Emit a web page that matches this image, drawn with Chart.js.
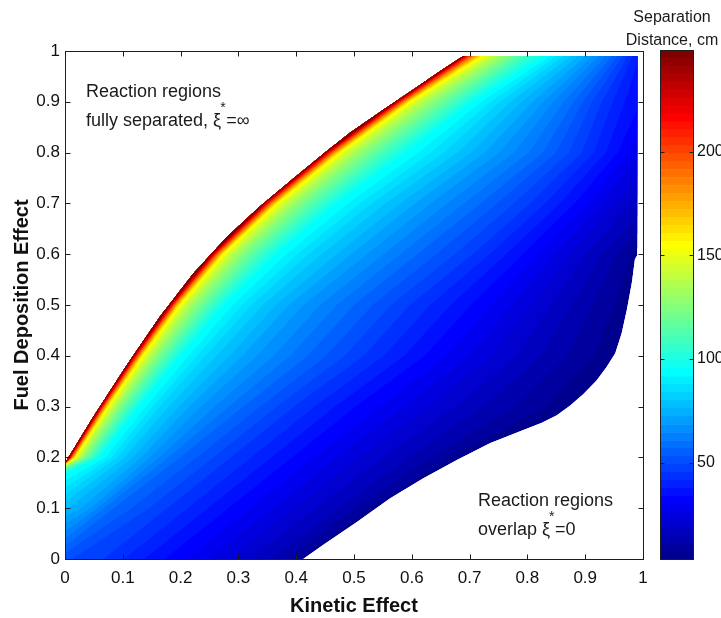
<!DOCTYPE html>
<html>
<head>
<meta charset="utf-8">
<script src="https://cdn.jsdelivr.net/npm/chart.js@4/dist/chart.umd.min.js"></script>
<style>
  html, body { margin: 0; padding: 0; background: #fff; overflow: hidden; }
  #wrap { position: relative; width: 721px; height: 618px; }
  #main { position: absolute; left: 0; top: 0; }
  #bar { position: absolute; left: 600px; top: 0; }
</style>
</head>
<body>
<div id="wrap">
  <canvas id="main" width="721" height="618"></canvas>
  <canvas id="bar" width="121" height="618"></canvas>
</div>
<script>
// ---- axes and colour scale ----
const xTickValues = [0, 0.1, 0.2, 0.3, 0.4, 0.5, 0.6, 0.7, 0.8, 0.9, 1];
const yTickValues = [0, 0.1, 0.2, 0.3, 0.4, 0.5, 0.6, 0.7, 0.8, 0.9, 1];
const colorTickValues = [50, 100, 150, 200];
const colorRange = [3, 249];          // separation distance, cm

// ---- edges of the solved region (kinetic effect, fuel deposition effect) ----
const upperEdge = [[0, 0.189], [0.049, 0.280], [0.107, 0.382], [0.164, 0.477], [0.222, 0.562],
  [0.280, 0.634], [0.337, 0.694], [0.395, 0.749], [0.453, 0.803], [0.493, 0.839],
  [0.55, 0.884], [0.60, 0.922], [0.65, 0.961], [0.689, 0.99]];
const lowerEdge = [[0.412, 0], [0.447, 0.028], [0.505, 0.073], [0.562, 0.119], [0.620, 0.159],
  [0.678, 0.195], [0.735, 0.228], [0.793, 0.254], [0.825, 0.268], [0.851, 0.283], [0.874, 0.302],
  [0.897, 0.325], [0.92, 0.352], [0.937, 0.378], [0.952, 0.405], [0.963, 0.444], [0.972, 0.49],
  [0.981, 0.546], [0.986, 0.59], [0.99, 0.598]];

// ---- separation distance sampled along the region's sides: [fuel deposition, cm] ----
const leftSide = [[0, 50], [0.03, 58], [0.06, 66], [0.09, 74], [0.1, 77], [0.12, 82], [0.15, 90],
  [0.165, 95], [0.175, 105], [0.181, 125], [0.185, 150], [0.188, 190], [0.189, 248]];
const rightSide = [[0.598, 5], [0.65, 12], [0.7, 17], [0.75, 22], [0.8, 27], [0.85, 31],
  [0.9, 35], [0.95, 37], [0.99, 38]];

// ---- separation distance along rows of constant fuel deposition: [kinetic effect, cm] ----
const row000 = [[0, 50], [0.06, 46], [0.17, 34], [0.28, 23], [0.36, 14], [0.40, 8], [0.412, 4]];
const row010 = [[0, 77], [0.04, 70], [0.075, 58], [0.17, 46], [0.28, 34], [0.39, 23], [0.48, 14], [0.52, 8], [0.538, 4]];
const row020 = [[0.006, 248], [0.009, 217], [0.012, 187], [0.017, 156], [0.024, 140], [0.033, 125], [0.045, 110],
  [0.06, 95], [0.095, 82], [0.14, 70], [0.19, 58], [0.28, 46], [0.39, 34], [0.5, 23], [0.6, 14], [0.66, 8], [0.685, 4]];
const row030 = [[0.06, 248], [0.064, 217], [0.068, 187], [0.074, 156], [0.083, 140], [0.095, 125], [0.11, 110],
  [0.128, 95], [0.17, 82], [0.225, 70], [0.30, 58], [0.39, 46], [0.50, 34], [0.62, 23], [0.73, 14], [0.82, 8], [0.866, 4]];
const row040 = [[0.118, 248], [0.122, 217], [0.127, 187], [0.134, 156], [0.145, 140], [0.16, 125], [0.178, 110],
  [0.2, 95], [0.25, 82], [0.32, 70], [0.41, 58], [0.51, 46], [0.62, 34], [0.73, 23], [0.83, 14], [0.9, 8], [0.949, 4]];
const row050 = [[0.18, 248], [0.185, 217], [0.19, 187], [0.198, 156], [0.21, 140], [0.228, 125], [0.25, 110],
  [0.275, 95], [0.33, 82], [0.40, 70], [0.49, 58], [0.59, 46], [0.70, 34], [0.80, 23], [0.89, 13], [0.95, 7], [0.974, 4]];
const row060 = [[0.253, 248], [0.258, 217], [0.264, 187], [0.273, 156], [0.287, 140], [0.307, 125], [0.333, 110],
  [0.365, 95], [0.43, 82], [0.51, 70], [0.60, 58], [0.70, 46], [0.79, 34], [0.87, 23], [0.94, 13], [0.99, 5]];
const row070 = [[0.343, 248], [0.349, 217], [0.356, 187], [0.366, 156], [0.382, 140], [0.405, 125], [0.435, 110],
  [0.47, 95], [0.54, 82], [0.62, 70], [0.71, 58], [0.80, 46], [0.88, 34], [0.94, 24], [0.99, 17]];
const row080 = [[0.45, 248], [0.456, 217], [0.464, 187], [0.475, 156], [0.492, 140], [0.518, 125], [0.55, 110],
  [0.59, 95], [0.666, 82], [0.74, 70], [0.82, 58], [0.89, 46], [0.95, 35], [0.99, 27]];
const row090 = [[0.571, 248], [0.577, 217], [0.585, 187], [0.596, 156], [0.613, 140], [0.64, 125], [0.672, 110],
  [0.705, 95], [0.76, 82], [0.82, 70], [0.875, 58], [0.925, 46], [0.965, 38], [0.99, 35]];
const row099 = [[0.689, 248], [0.695, 217], [0.705, 187], [0.721, 156], [0.74, 140], [0.765, 125], [0.792, 110],
  [0.83, 95], [0.868, 82], [0.908, 70], [0.943, 58], [0.972, 46], [0.99, 38]];

const rowHeights = [0, 0.1, 0.2, 0.3, 0.4, 0.5, 0.6, 0.7, 0.8, 0.9, 0.99];
const rowSamples = [row000, row010, row020, row030, row040, row050, row060, row070, row080, row090, row099];

// ---- 64-step jet colour map ----
function jet(i) {
  const n = i + 1;
  let r = 0, g = 0, b = 0;
  if (n >= 25 && n <= 40) r = (n - 24) / 16; else if (n > 40 && n <= 56) r = 1; else if (n > 56) r = (72 - n) / 16;
  if (n >= 9 && n <= 24) g = (n - 8) / 16; else if (n > 24 && n <= 40) g = 1; else if (n > 40 && n <= 55) g = (56 - n) / 16;
  if (n <= 8) b = (n + 8) / 16; else if (n <= 24) b = 1; else if (n <= 39) b = (40 - n) / 16;
  return `rgb(${Math.round(r * 255)},${Math.round(g * 255)},${Math.round(b * 255)})`;
}
const levelStep = (colorRange[1] - colorRange[0]) / 64;

// where a row (values falling with x) reaches level L
function rowCrossing(row, L) {
  if (L > row[0][1] || L <= row[row.length - 1][1]) return null;
  for (let i = 0; i < row.length - 1; i++) {
    const [x0, v0] = row[i], [x1, v1] = row[i + 1];
    if (L <= v0 && L > v1) return x0 + (x1 - x0) * (v0 - L) / (v0 - v1);
  }
  return null;
}
// where a side (values rising with y) reaches level L
function sideCrossing(side, L) {
  for (let i = 0; i < side.length - 1; i++) {
    const [y0, v0] = side[i], [y1, v1] = side[i + 1];
    if (L >= v0 && L <= v1) return y0 + (y1 - y0) * (L - v0) / (v1 - v0);
  }
  return null;
}
// polygon enclosing every place where the distance is at least L
function regionAtLeast(L) {
  const line = [];
  let fromBottom = false, toTop = false;
  const x0 = rowCrossing(rowSamples[0], L);
  if (x0 !== null) { line.push([x0, 0]); fromBottom = true; }
  else {
    const yl = sideCrossing(leftSide, L);
    if (yl === null) return null;
    line.push([0, yl]);
  }
  for (let j = 1; j < rowSamples.length; j++) {
    const xc = rowCrossing(rowSamples[j], L);
    if (xc !== null) line.push([xc, rowHeights[j]]);
  }
  if (rowCrossing(rowSamples[rowSamples.length - 1], L) !== null) toTop = true;
  else {
    const yr = sideCrossing(rightSide, L);
    if (yr !== null) line.push([0.99, yr]);
  }
  const poly = [];
  if (fromBottom) poly.push([-0.05, -0.05], [line[0][0], -0.05]);
  else poly.push([-0.05, line[0][1]]);
  poly.push(...line);
  const last = line[line.length - 1];
  if (toTop) poly.push([last[0], 1.05]);
  else poly.push([1.05, last[1]], [1.05, 1.05]);
  poly.push([-0.05, 1.05]);
  return poly;
}

const domain = [[0, 0], ...lowerEdge, [0.99, 0.99], ...upperEdge.slice().reverse()];

Chart.defaults.font.family = '"Liberation Sans", Arial, Helvetica, sans-serif';
Chart.defaults.color = '#111';

// filled contour field, clipped to the solved region
const fieldPlugin = {
  id: 'field',
  beforeDatasetsDraw(chart) {
    const { ctx, scales: { x, y } } = chart;
    const trace = pts => {
      ctx.beginPath();
      pts.forEach((p, i) => {
        const px = x.getPixelForValue(p[0]), py = y.getPixelForValue(p[1]);
        if (i) ctx.lineTo(px, py); else ctx.moveTo(px, py);
      });
      ctx.closePath();
    };
    ctx.save();
    trace(domain);
    ctx.clip();
    trace(domain);
    ctx.fillStyle = jet(0);
    ctx.fill();
    for (let k = 1; k < 64; k++) {
      const poly = regionAtLeast(colorRange[0] + k * levelStep);
      if (!poly) continue;
      trace(poly);
      ctx.fillStyle = jet(k);
      ctx.fill();
    }
    ctx.restore();
  }
};

// box, inward ticks on all four sides, and the two region notes
const framePlugin = {
  id: 'frame',
  afterDraw(chart) {
    const { ctx, chartArea: { left, right, top, bottom }, scales: { x, y } } = chart;
    ctx.save();
    ctx.strokeStyle = '#1e1e1e';
    ctx.lineWidth = 1;
    const L = Math.round(left) + 0.5, R = Math.round(right) + 0.5;
    const T = Math.round(top) + 0.5, B = Math.round(bottom) + 0.5;
    ctx.strokeRect(L, T, R - L, B - T);
    ctx.beginPath();
    xTickValues.forEach(v => {
      const px = Math.round(x.getPixelForValue(v)) + 0.5;
      ctx.moveTo(px, B); ctx.lineTo(px, B - 5);
      ctx.moveTo(px, T); ctx.lineTo(px, T + 5);
    });
    yTickValues.forEach(v => {
      const py = Math.round(y.getPixelForValue(v)) + 0.5;
      ctx.moveTo(L, py); ctx.lineTo(L + 5, py);
      ctx.moveTo(R, py); ctx.lineTo(R - 5, py);
    });
    ctx.stroke();

    ctx.fillStyle = '#1a1a1a';
    ctx.textAlign = 'left';
    ctx.textBaseline = 'alphabetic';
    const note = (xp, yp, first, lead, tail) => {
      ctx.font = '18px "Liberation Sans", Arial, sans-serif';
      ctx.fillText(first, xp, yp);
      ctx.fillText(lead + tail, xp, yp + 29);
      const w = ctx.measureText(lead).width;
      ctx.font = '14px "Liberation Sans", Arial, sans-serif';
      ctx.fillText('*', xp + w - 1, yp + 15);
    };
    note(86, 97, 'Reaction regions', 'fully separated, \u03BE', ' =\u221E');
    note(478, 506, 'Reaction regions', 'overlap \u03BE', ' =0');
    ctx.restore();
  }
};

new Chart(document.getElementById('main'), {
  type: 'scatter',
  data: { datasets: [] },
  options: {
    responsive: false,
    animation: false,
    layout: { padding: { left: 0, top: 51, right: 78, bottom: 0 } },
    plugins: { legend: { display: false }, tooltip: { enabled: false } },
    scales: {
      x: {
        type: 'linear', min: 0, max: 1,
        afterFit(s) { s.height = 59; },
        afterBuildTicks(s) { s.ticks = xTickValues.map(v => ({ value: v })); },
        grid: { display: false, drawTicks: false, tickLength: 0 }, border: { display: false },
        ticks: { padding: 9, font: { size: 17 }, color: '#111', maxRotation: 0, autoSkip: false,
          callback: v => String(+Number(v).toFixed(1)) },
        title: { display: true, text: 'Kinetic Effect', color: '#111',
          font: { size: 20, weight: 'bold' }, padding: { top: 0, bottom: 0 } }
      },
      y: {
        type: 'linear', min: 0, max: 1,
        afterFit(s) { s.width = 65; },
        afterBuildTicks(s) { s.ticks = yTickValues.map(v => ({ value: v })); },
        grid: { display: false, drawTicks: false, tickLength: 0 }, border: { display: false },
        ticks: { padding: 5, font: { size: 17 }, color: '#111', autoSkip: false,
          callback: v => String(+Number(v).toFixed(1)) },
        title: { display: true, text: 'Fuel Deposition Effect', color: '#111',
          font: { size: 20, weight: 'bold' }, padding: { top: 10, bottom: 0 } }
      }
    }
  },
  plugins: [fieldPlugin, framePlugin]
});

// ---- colour bar ----
const colorBands = Array.from({ length: 64 }, (_, k) =>
  [colorRange[0] + k * levelStep, colorRange[0] + (k + 1) * levelStep]);

const colorbarFrame = {
  id: 'colorbarFrame',
  afterDraw(chart) {
    const { ctx, chartArea: { left, right, top, bottom }, scales: { y } } = chart;
    ctx.save();
    ctx.strokeStyle = '#1e1e1e';
    ctx.lineWidth = 1;
    const L = Math.round(left) + 0.5, R = Math.round(right) - 0.5;
    const T = Math.round(top) + 0.5, B = Math.round(bottom) - 0.5;
    ctx.strokeRect(L, T, R - L, B - T);
    ctx.beginPath();
    colorTickValues.forEach(v => {
      const py = Math.round(y.getPixelForValue(v)) + 0.5;
      ctx.moveTo(L, py); ctx.lineTo(L + 4, py);
      ctx.moveTo(R, py); ctx.lineTo(R - 4, py);
    });
    ctx.stroke();
    ctx.fillStyle = '#1a1a1a';
    ctx.font = '16px "Liberation Sans", Arial, sans-serif';
    ctx.textAlign = 'center';
    ctx.textBaseline = 'alphabetic';
    ctx.fillText('Separation', 72, 22);
    ctx.fillText('Distance, cm', 72, 45);
    ctx.restore();
  }
};

new Chart(document.getElementById('bar'), {
  type: 'bar',
  data: {
    labels: [''],
    datasets: colorBands.map((b, k) => ({
      data: [[b[0], b[1]]],
      backgroundColor: jet(k),
      borderWidth: 0,
      grouped: false,
      barPercentage: 1,
      categoryPercentage: 1
    }))
  },
  options: {
    responsive: false,
    animation: false,
    layout: { padding: { left: 60, right: 0, top: 50, bottom: 58 } },
    plugins: { legend: { display: false }, tooltip: { enabled: false } },
    scales: {
      x: { display: false },
      y: {
        position: 'right', min: colorRange[0], max: colorRange[1],
        afterFit(s) { s.width = 27; },
        afterBuildTicks(s) { s.ticks = colorTickValues.map(v => ({ value: v })); },
        grid: { display: false, drawTicks: false, tickLength: 0 }, border: { display: false },
        ticks: { padding: 3, font: { size: 16 }, color: '#111' }
      }
    }
  },
  plugins: [colorbarFrame]
});
</script>
</body>
</html>
